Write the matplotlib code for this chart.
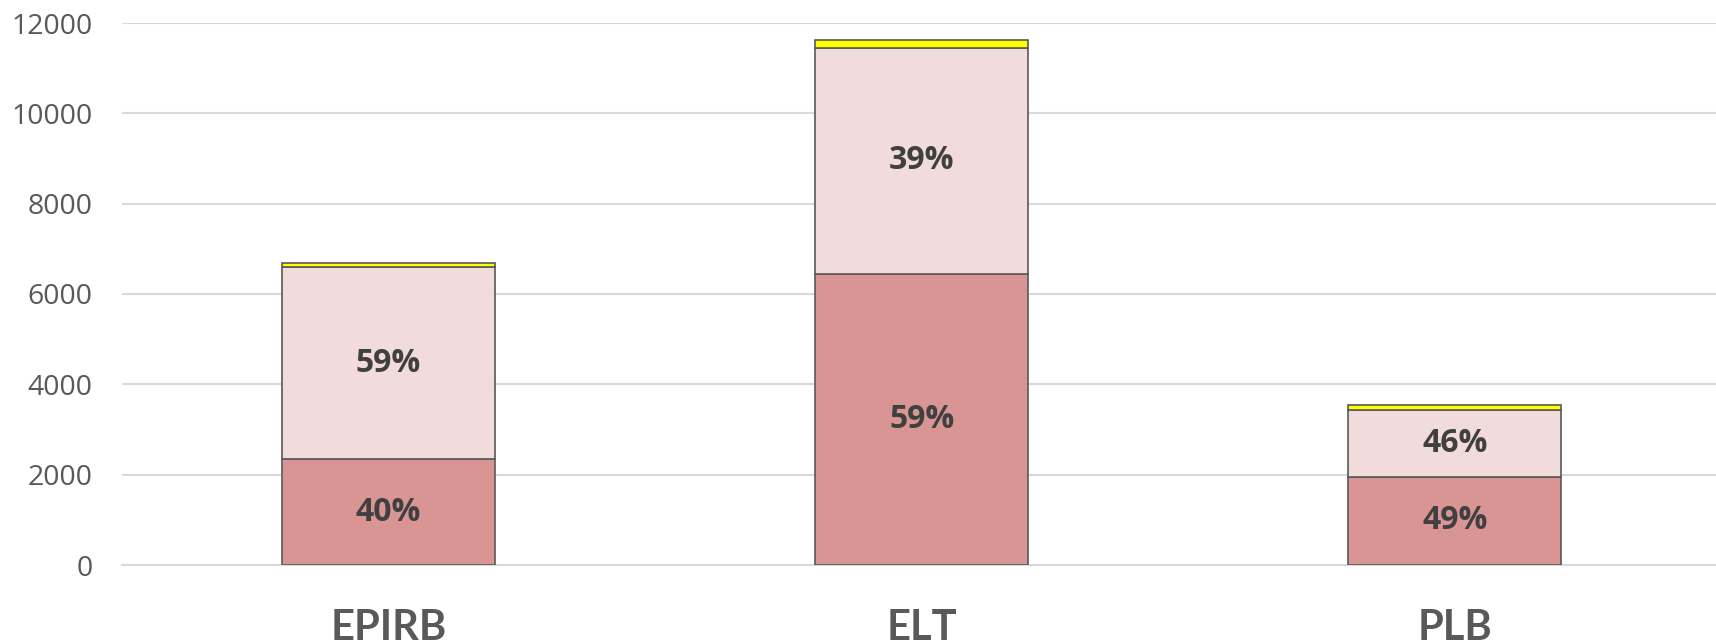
import numpy as np
import matplotlib
matplotlib.use("Agg")
import matplotlib.pyplot as plt

# Data
categories = ["EPIRB", "ELT", "PLB"]
dark_vals = [2340, 6450, 1950]
light_vals = [4260, 5000, 1490]
yellow_vals = [90, 170, 100]
dark_labels = ["40%", "59%", "49%"]
light_labels = ["59%", "39%", "46%"]
yticks = [0, 2000, 4000, 6000, 8000, 10000, 12000]

fig = plt.figure(figsize=(17.16, 6.42), dpi=100)
ax = fig.add_axes([122 / 1716, 1 - 565 / 642, 1 - 122 / 1716, (565 - 23) / 642])

x = np.arange(len(categories))
w = 0.40
edge = "#595959"

dark = np.array(dark_vals)
light = np.array(light_vals)
yellow = np.array(yellow_vals)

ax.bar(x, dark, w, color="#D99594", edgecolor=edge, linewidth=1.2, zorder=3)
ax.bar(x, light, w, bottom=dark, color="#F2DCDB", edgecolor=edge, linewidth=1.2, zorder=3)
ax.bar(x, yellow, w, bottom=dark + light, color="#FFFF00", edgecolor=edge, linewidth=1.2, zorder=3)

# percentage labels in the middle of each segment
for i in range(len(categories)):
    ax.text(x[i], dark[i] / 2, dark_labels[i], ha="center", va="center",
            fontsize=23, fontweight="bold", color="#404040", family="Open Sans", zorder=4)
    ax.text(x[i], dark[i] + light[i] / 2, light_labels[i], ha="center", va="center",
            fontsize=23, fontweight="bold", color="#404040", family="Open Sans", zorder=4)

ax.set_xlim(-0.5, 2.49)
ax.set_ylim(0, 12000)
ax.set_yticks(yticks)
ax.set_yticklabels([str(t) for t in yticks], fontsize=20.5, color="#595959", family="Open Sans")
ax.set_xticks(x)
ax.set_xticklabels(categories, fontsize=30, fontweight="bold", color="#595959", family="Lato")
ax.tick_params(axis="y", length=0, pad=21)
ax.tick_params(axis="x", length=0, pad=32)

ax.grid(axis="y", color="#D9D9D9", linewidth=1.5, zorder=0)
for s in ["top", "right", "left"]:
    ax.spines[s].set_visible(False)
ax.spines["bottom"].set_color("#D9D9D9")
ax.spines["bottom"].set_linewidth(1.5)

fig.savefig("out.png", dpi=100)
